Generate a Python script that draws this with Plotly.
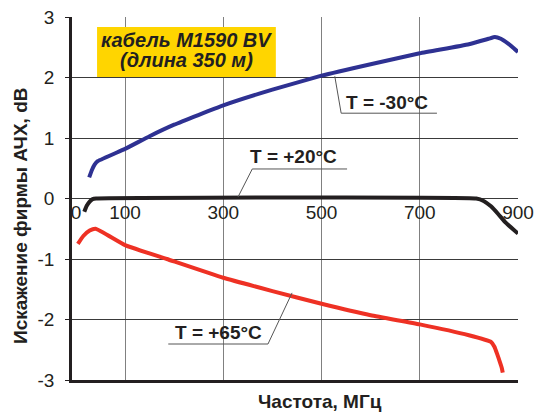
import plotly.graph_objects as go

# -30 °C
f_cold = [27, 33, 38, 45, 100, 150, 200, 300, 400, 500, 600, 700, 800, 840, 853, 865, 880, 892, 900]
d_cold = [0.35, 0.48, 0.56, 0.62, 0.82, 1.03, 1.22, 1.54, 1.80, 2.03, 2.22, 2.40, 2.55, 2.64, 2.67, 2.64, 2.56, 2.48, 2.42]
# +20 °C
f_room = [17, 22, 28, 34, 41, 815, 830, 845, 860, 875, 890, 900]
d_room = [-0.22, -0.12, -0.05, -0.01, 0.0, 0.0, -0.04, -0.13, -0.26, -0.40, -0.51, -0.58]
# +65 °C
f_hot = [4, 15, 28, 40, 100, 185, 300, 400, 500, 600, 700, 800, 845, 852, 858, 863, 867, 869]
d_hot = [-0.75, -0.62, -0.53, -0.50, -0.77, -1.00, -1.31, -1.53, -1.74, -1.93, -2.08, -2.26, -2.37, -2.45, -2.58, -2.70, -2.80, -2.88]

x_ticks = [0, 100, 300, 500, 700, 900]
x_grid = [100, 300, 500, 700, 900]
y_ticks = [-3, -2, -1, 0, 1, 2, 3]
y_labels = ["-3", "-2", "-1", "0", "1", "2", "3"]

FONT = "Liberation Sans, Arial, sans-serif"
TXT = "#231F20"

fig = go.Figure()
fig.add_trace(go.Scatter(x=f_cold, y=d_cold, mode="lines", line=dict(color="#2E3192", width=4, shape="spline", smoothing=0.4), hoverinfo="skip"))
fig.add_trace(go.Scatter(x=f_room, y=d_room, mode="lines", line=dict(color="#231F20", width=4, shape="spline", smoothing=0.4), hoverinfo="skip"))
fig.add_trace(go.Scatter(x=f_hot, y=d_hot, mode="lines", line=dict(color="#EE3124", width=4, shape="spline", smoothing=0.4), hoverinfo="skip"))
# invisible trace for label axis
fig.add_trace(go.Scatter(x=[0, 900], y=[0, 0], xaxis="x2", mode="lines", line=dict(width=0), opacity=0, hoverinfo="skip"))

XR = [-8, 900]
fig.update_layout(
    width=536, height=416,
    margin=dict(l=72, r=18, t=17, b=36, autoexpand=False),
    paper_bgcolor="white", plot_bgcolor="white",
    showlegend=False,
    font=dict(family=FONT, color=TXT, size=19),
    xaxis=dict(range=XR, tickvals=x_grid, showticklabels=False, ticks="",
               showgrid=True, gridcolor="#808080", gridwidth=1,
               showline=True, linecolor="#231F20", linewidth=2.5, zeroline=False),
    xaxis2=dict(range=XR, overlaying="x", anchor="free", position=0.5, side="bottom",
                tickvals=x_ticks, ticktext=[str(v) for v in x_ticks], ticks="",
                showgrid=False, showline=False, zeroline=False,
                tickfont=dict(size=19, color=TXT)),
    yaxis=dict(range=[-3, 3], tickvals=y_ticks, ticktext=y_labels, ticks="outside", ticklen=4, tickcolor="#231F20",
               showgrid=True, gridcolor="#3a3a3a", gridwidth=1,
               showline=True, linecolor="#231F20", linewidth=2.5, zeroline=False,
               tickfont=dict(size=19, color=TXT), ticklabelstandoff=7),
)

shapes = [
    dict(type="rect", xref="x", yref="y", x0=43, x1=407, y0=2.01, y1=2.835,
         fillcolor="#FFD500", line=dict(width=0), layer="above"),
    dict(type="path", xref="x", yref="y", path="M 527,2.02 L 540,1.41 L 735,1.41",
         line=dict(color="#555555", width=1)),
    dict(type="path", xref="x", yref="y", path="M 330,0.025 L 359,0.488 L 552,0.488",
         line=dict(color="#555555", width=1)),
    dict(type="path", xref="x", yref="y", path="M 440,-1.56 L 391,-2.405 L 188,-2.405",
         line=dict(color="#555555", width=1)),
]
fig.update_layout(shapes=shapes)

ann = [
    dict(x=225, y=2.62, xref="x", yref="y", text="<b><i>кабель M1590 BV</i></b>", showarrow=False, font=dict(size=20, color=TXT)),
    dict(x=225, y=2.29, xref="x", yref="y", text="<b><i>(длина 350 м)</i></b>", showarrow=False, font=dict(size=20, color=TXT)),
    dict(x=634, y=1.58, xref="x", yref="y", text="<b>T = -30°C</b>", showarrow=False, font=dict(size=19, color=TXT)),
    dict(x=443, y=0.69, xref="x", yref="y", text="<b>T = +20°C</b>", showarrow=False, font=dict(size=19, color=TXT)),
    dict(x=290, y=-2.22, xref="x", yref="y", text="<b>T = +65°C</b>", showarrow=False, font=dict(size=19, color=TXT)),
    dict(x=0.556, y=-0.06, xref="paper", yref="paper", text="<b>Частота, МГц</b>", showarrow=False,
         font=dict(size=19, color=TXT), xanchor="center", yanchor="middle"),
    dict(x=-0.1166, y=0.4545, xref="paper", yref="paper", text="<b>Искажение фирмы АЧХ, dB</b>", showarrow=False,
         textangle=-90, font=dict(size=19, color=TXT), xanchor="center", yanchor="middle"),
]
fig.update_layout(annotations=ann)

fig.write_html("out.html", config={"displayModeBar": False},
               post_script="document.body.style.margin='0px';")
